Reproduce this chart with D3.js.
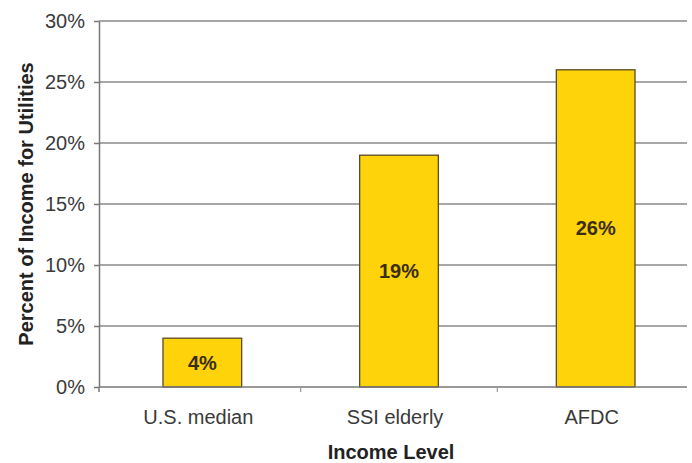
<!DOCTYPE html>
<html><head><meta charset="utf-8">
<script src="https://cdn.jsdelivr.net/npm/d3@7"></script>
<style>body{margin:0;background:#fff}svg{display:block}</style>
</head><body>
<script>
const categories = ["U.S. median", "SSI elderly", "AFDC"];
const values = [4, 19, 26];
const yTicks = [0, 5, 10, 15, 20, 25, 30];
const yTitle = "Percent of Income for Utilities";
const xTitle = "Income Level";

const W = 692, H = 463;
const mLeft = 99, mRight = 687, mTop = 21, mBottom = 387;
const FONT = "Arial, 'Liberation Sans', sans-serif";
const svg = d3.select("body").append("svg").attr("width", W).attr("height", H);

const y = d3.scaleLinear().domain([0, 30]).range([mBottom, mTop]);
const x = d3.scaleBand().domain(categories).range([104, 694]).paddingInner(0.6).paddingOuter(0.3);

// gridlines
svg.append("g").selectAll("line").data(yTicks.filter(d => d > 0)).join("line")
  .attr("x1", mLeft).attr("x2", mRight)
  .attr("y1", d => y(d)).attr("y2", d => y(d))
  .attr("stroke", "#8a8a8a").attr("stroke-width", 1.5);

// y axis
const yAxis = d3.axisLeft(y).tickValues(yTicks).tickFormat(d => d + "%").tickSize(5).tickSizeOuter(0);
const gy = svg.append("g").attr("transform", `translate(${mLeft},0)`).call(yAxis);
gy.select(".domain").attr("stroke", "#777").attr("stroke-width", 1.5);
gy.selectAll(".tick line").attr("stroke", "#777").attr("stroke-width", 1.5);
gy.selectAll("text").attr("font-family", FONT).attr("font-size", 20).attr("fill", "#3a3a3a").attr("x", -14);

// bars
svg.append("g").selectAll("rect").data(values).join("rect")
  .attr("x", (d, i) => x(categories[i]))
  .attr("width", x.bandwidth())
  .attr("y", d => y(d))
  .attr("height", d => mBottom - y(d))
  .attr("fill", "#FFD30A").attr("stroke", "#5b4a22").attr("stroke-width", 1.3);

// value labels
svg.append("g").selectAll("text").data(values).join("text")
  .attr("x", (d, i) => x(categories[i]) + x.bandwidth() / 2)
  .attr("y", d => (y(d) + mBottom) / 2)
  .attr("dy", "0.35em").attr("text-anchor", "middle")
  .attr("font-family", FONT).attr("font-size", 20).attr("font-weight", "bold")
  .attr("fill", "#3b2d12").text(d => d + "%");

// x axis baseline
svg.append("line").attr("x1", mLeft).attr("x2", mRight).attr("y1", mBottom).attr("y2", mBottom)
  .attr("stroke", "#777").attr("stroke-width", 1.5);
// category boundary ticks
const step = x.step();
const bounds = [x(categories[1]) - (step - x.bandwidth()) / 2, x(categories[2]) - (step - x.bandwidth()) / 2];
svg.append("g").selectAll("line").data(bounds).join("line")
  .attr("x1", d => d).attr("x2", d => d).attr("y1", mBottom).attr("y2", mBottom + 5)
  .attr("stroke", "#999").attr("stroke-width", 1.2);
svg.append("line").attr("x1", mLeft).attr("x2", mLeft).attr("y1", mBottom).attr("y2", mBottom + 5)
  .attr("stroke", "#777").attr("stroke-width", 1.5);

// x labels
svg.append("g").selectAll("text").data(categories).join("text")
  .attr("x", d => x(d) + x.bandwidth() / 2 - 4).attr("y", 424)
  .attr("text-anchor", "middle")
  .attr("font-family", FONT).attr("font-size", 20).attr("fill", "#3a3a3a")
  .text(d => d);

// titles
svg.append("text").attr("x", 391).attr("y", 459).attr("text-anchor", "middle")
  .attr("font-family", FONT).attr("font-size", 20).attr("font-weight", "bold")
  .attr("fill", "#222").text(xTitle);
svg.append("text").attr("transform", "translate(33,204) rotate(-90)").attr("text-anchor", "middle")
  .attr("font-family", FONT).attr("font-size", 20).attr("font-weight", "bold")
  .attr("fill", "#222").text(yTitle);
</script>
</body></html>
